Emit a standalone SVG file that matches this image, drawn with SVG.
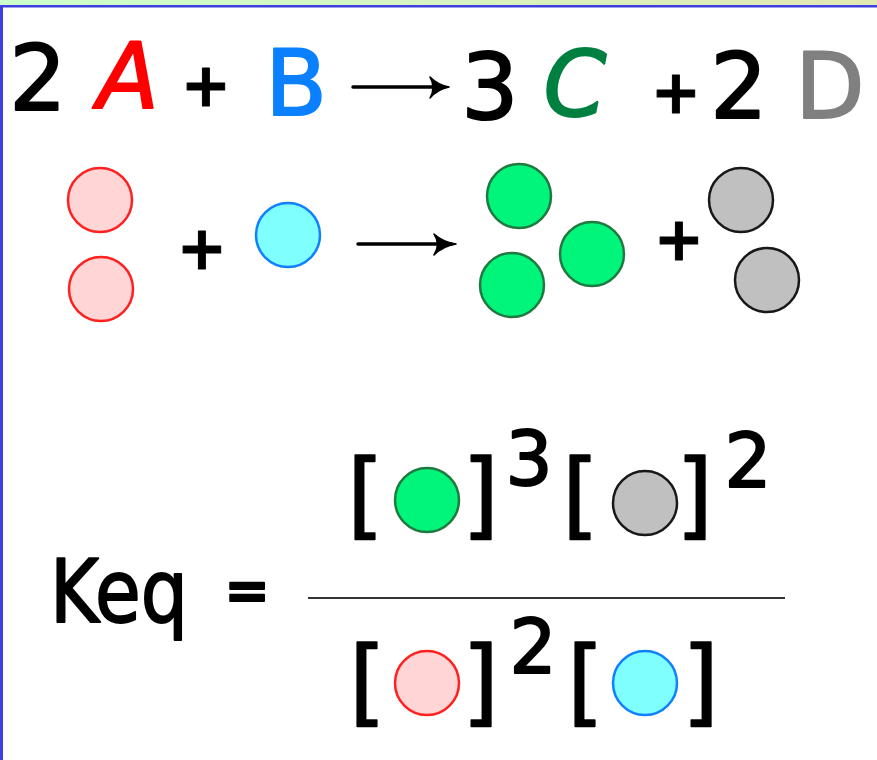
<svg xmlns="http://www.w3.org/2000/svg" width="877" height="760" viewBox="0 0 877 760">
<defs>
<linearGradient id="band" x1="0" y1="0" x2="1" y2="0">
<stop offset="0" stop-color="#ccffcc"/>
<stop offset="1" stop-color="#e2e8b4"/>
</linearGradient>
<style>
.t{font-family:"Comic Sans MS","DejaVu Sans",sans-serif;fill:#000;stroke:#000;stroke-width:2;stroke-linejoin:round;}
.big{font-size:90px;text-anchor:middle;}
.plus{font-size:60px;font-weight:bold;text-anchor:middle;stroke-width:1;}
.br{font-size:95px;stroke-width:1.5;}
.sup{font-size:74px;text-anchor:middle;}
.red{fill:#ffd5d5;stroke:#ff2020;stroke-width:2.5;}
.blue{fill:#80ffff;stroke:#1080ff;stroke-width:2.5;}
.green{fill:#00f57a;stroke:#207a40;stroke-width:2.5;}
.gray{fill:#c0c0c0;stroke:#181818;stroke-width:2.5;}
.arr{fill:none;stroke:#000;stroke-width:3.5;stroke-linecap:round;stroke-linejoin:round;}
</style>
</defs>
<rect x="0" y="0" width="877" height="760" fill="#fff"/>
<rect x="0" y="0" width="877" height="5" fill="url(#band)"/>
<rect x="0" y="5" width="877" height="2.5" fill="#3f3fdf"/>
<rect x="0" y="5" width="3" height="755" fill="#3f3fdf"/>

<g id="equation">
<text class="t big" x="38" y="110">2</text>
<text class="t big" x="128" y="108" style="fill:#ff0000;stroke:#ff0000;font-style:italic">A</text>
<text class="t plus" x="206" y="106">+</text>
<text class="t big" x="296" y="115" style="fill:#0a80ff;stroke:#0a80ff">B</text>
<text class="t big" x="490" y="119">3</text>
<text class="t big" x="575" y="116" style="fill:#008040;stroke:#008040;font-style:italic">C</text>
<text class="t plus" x="676" y="113">+</text>
<text class="t big" x="739" y="118">2</text>
<text class="t big" x="830" y="118" style="fill:#808080;stroke:#808080">D</text>
</g>

<g id="particles">
<circle class="red" cx="100" cy="200" r="32"/>
<circle class="red" cx="101" cy="289" r="32"/>
<text class="t plus" x="202" y="269">+</text>
<circle class="blue" cx="288" cy="235" r="32"/>
<circle class="green" cx="519" cy="196" r="32"/>
<circle class="green" cx="512" cy="285" r="32"/>
<circle class="green" cx="592" cy="254" r="32"/>
<text class="t plus" x="679" y="260">+</text>
<circle class="gray" cx="741" cy="200" r="32"/>
<circle class="gray" cx="767" cy="280" r="32"/>
</g>

<g id="arrows">
<path class="arr" d="M353,87 H444"/>
<path d="M430,77 Q438,85 449,87 Q438,89 430,98 Q436,87 430,77 Z" fill="#000" stroke="#000" stroke-width="1.5" stroke-linejoin="round"/>
<path class="arr" d="M358,244 H451"/>
<path d="M434,234 Q443,242 456,244 Q443,246 434,255 Q441,244 434,234 Z" fill="#000" stroke="#000" stroke-width="1.5" stroke-linejoin="round"/>
</g>

<g id="keq">
<text class="t" x="50" y="622" font-size="88" textLength="138" lengthAdjust="spacingAndGlyphs">Keq</text>
<text class="t" x="247" y="609" font-size="54" font-weight="bold" text-anchor="middle" stroke-width="1.5">=</text>
<line x1="308" y1="598" x2="785" y2="598" stroke="#333" stroke-width="2"/>

<text class="t br" x="347" y="527">[</text>
<circle class="green" cx="427" cy="500" r="32"/>
<text class="t br" x="462" y="527">]</text>
<text class="t sup" x="529" y="485">3</text>
<text class="t br" x="562" y="527">[</text>
<circle class="gray" cx="645" cy="503" r="32"/>
<text class="t br" x="676" y="527">]</text>
<text class="t sup" x="748" y="487">2</text>

<text class="t br" x="349" y="714">[</text>
<circle class="red" cx="427" cy="683" r="32"/>
<text class="t br" x="462" y="714">]</text>
<text class="t sup" x="533" y="673">2</text>
<text class="t br" x="567" y="714">[</text>
<circle class="blue" cx="645" cy="683" r="32"/>
<text class="t br" x="682" y="714">]</text>
</g>
</svg>
